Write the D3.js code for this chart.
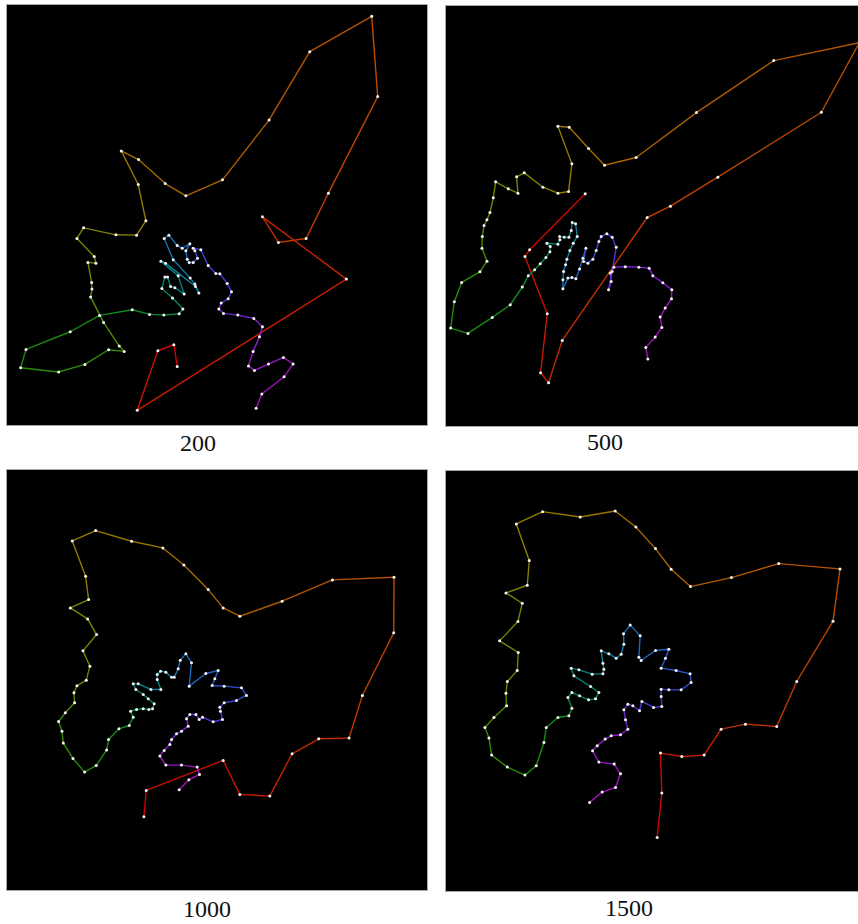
<!DOCTYPE html>
<html>
<head>
<meta charset="utf-8">
<script src="https://cdn.jsdelivr.net/npm/d3@7"></script>
<style>
  html, body { margin: 0; padding: 0; background: #ffffff; }
  svg { display: block; }
</style>
</head>
<body>
<svg id="chart" width="858" height="924"></svg>
<script>
// Iteration counts shown under each panel
const iterations = ["200", "500", "1000", "1500"];

// Tour points after each iteration count, in each panel's own coordinate frame
const tour200 = [[532,1100],[522,1035],[474,1053],[412,1232],[1040,838],[788,651],[836,728],[919,716],[986,580],[1134,290],[1116,49],[930,155],[808,360],[668,540],[558,588],[496,551],[416,479],[364,453],[415,554],[438,663],[410,706],[348,705],[251,684],[231,716],[283,770],[288,790],[264,788],[275,848],[276,868],[272,892],[311,968],[358,1039],[373,1055],[326,1050],[255,1094],[176,1117],[62,1104],[78,1049],[211,996],[299,947],[397,930],[449,944],[492,946],[538,942],[549,928],[518,895],[486,866],[495,832],[503,832],[512,860],[525,864],[553,883],[535,828],[483,784],[497,790],[587,860],[597,880],[585,853],[571,835],[520,780],[493,716],[507,706],[532,737],[547,745],[570,732],[558,753],[562,778],[568,788],[580,788],[593,775],[585,753],[580,745],[603,750],[625,797],[648,821],[660,822],[682,851],[695,876],[685,897],[664,910],[657,928],[671,941],[714,946],[762,956],[788,981],[779,1011],[760,1055],[746,1099],[764,1112],[806,1093],[851,1073],[880,1093],[853,1131],[786,1183],[769,1226]];

const tour500 = [[467,582],[300,750],[286,770],[353,942],[333,1119],[357,1149],[398,1022],[653,653],[723,619],[865,532],[1176,337],[1290,128],[1033,182],[801,338],[620,473],[525,496],[477,446],[419,382],[385,379],[427,492],[417,575],[385,580],[340,562],[284,519],[261,531],[265,580],[236,567],[198,546],[191,594],[181,638],[172,660],[163,677],[158,710],[157,745],[172,784],[151,816],[96,848],[74,906],[63,985],[115,1001],[188,953],[242,915],[278,862],[296,828],[315,810],[332,792],[349,773],[361,756],[362,740],[352,730],[385,733],[391,720],[390,710],[404,712],[418,712],[425,692],[428,668],[438,672],[443,710],[431,730],[421,752],[412,778],[408,795],[402,815],[400,840],[400,867],[415,835],[427,833],[439,837],[450,808],[460,775],[469,745],[462,785],[475,790],[490,778],[500,752],[508,725],[515,710],[532,702],[548,712],[560,742],[548,815],[537,870],[545,845],[542,820],[553,802],[587,801],[628,802],[659,805],[670,828],[700,849],[727,870],[726,897],[707,925],[692,952],[697,983],[677,1012],[649,1043],[655,1078]];

const tour1000 = [[432,1072],[439,993],[670,903],[720,1005],[810,1010],[877,883],[957,838],[1048,836],[1088,708],[1182,520],[1183,353],[998,361],[847,425],[720,470],[670,445],[625,390],[552,316],[489,265],[395,245],[287,213],[217,244],[257,350],[266,420],[211,445],[263,478],[290,525],[249,574],[270,620],[259,662],[231,679],[222,700],[224,730],[196,760],[176,786],[186,815],[190,851],[219,897],[254,938],[289,918],[320,872],[326,840],[357,808],[388,798],[400,773],[392,755],[410,750],[430,748],[447,750],[458,748],[463,733],[445,718],[430,705],[408,690],[400,673],[415,673],[453,690],[483,690],[472,660],[472,645],[482,635],[498,638],[515,653],[523,653],[535,628],[541,602],[558,583],[575,610],[568,680],[618,642],[655,633],[645,658],[637,678],[673,680],[725,685],[740,708],[710,723],[673,730],[660,743],[662,755],[668,780],[640,787],[608,773],[598,780],[588,765],[570,765],[560,778],[565,800],[545,815],[530,823],[515,840],[510,855],[493,873],[480,890],[498,917],[545,917],[592,923],[599,945],[567,961],[538,991]];

const tour1500 = [[683,1133],[697,1000],[693,880],[757,890],[824,886],[875,808],[948,793],[1042,800],[1102,665],[1211,484],[1232,327],[1048,311],[906,353],[783,380],[725,328],[678,266],[619,201],[557,153],[452,171],[339,155],[260,192],[299,302],[293,376],[229,399],[278,430],[265,485],[210,543],[266,578],[263,632],[233,665],[229,700],[231,738],[193,773],[166,803],[178,835],[186,886],[233,922],[286,946],[320,918],[343,848],[350,803],[385,773],[418,768],[427,745],[415,713],[427,698],[450,708],[477,720],[498,717],[508,698],[483,680],[433,648],[425,625],[448,630],[488,643],[520,642],[523,628],[520,610],[515,573],[538,582],[560,595],[575,583],[583,553],[582,522],[602,495],[632,528],[628,592],[635,602],[678,572],[718,568],[708,595],[695,625],[740,632],[782,642],[785,668],[755,690],[718,690],[695,688],[695,710],[697,740],[672,743],[637,725],[630,753],[610,738],[595,733],[583,750],[588,780],[595,808],[573,825],[545,828],[527,838],[503,858],[489,873],[508,907],[554,913],[573,942],[558,983],[518,997],[480,1028]];

// Coordinate extent of each panel's frame: [[xmin, xmax], [ymin, ymax]]
const extent200  = [[18,1282],[12,1276]];
const extent500  = [[46,1310],[15,1279]];
const extent1000 = [[18,1282],[28,1292]];
const extent1500 = [[46,1310],[30,1294]];

const tours   = [tour200, tour500, tour1000, tour1500];
const extents = [extent200, extent500, extent1000, extent1500];

// Page layout
const SIZE = 421;
const frames = [
  { x: 6,   y: 4,   lx: 198, ly: 451 },
  { x: 445, y: 5,   lx: 605, ly: 450 },
  { x: 6,   y: 469, lx: 207, ly: 917 },
  { x: 445, y: 470, lx: 629, ly: 916 }
];

// Colour along the tour: red through orange, olive, green, teal, blue to violet
const hueStops = ["#cc0000","#ba4c00","#927e00","#5c8a00","#168a0c","#00866a","#0a80a0","#2262c8","#4838d8","#8a1ed0","#a810b8"];
const colourAt = d3.scaleLinear()
  .domain(d3.range(hueStops.length).map(i => i / (hueStops.length - 1)))
  .range(hueStops)
  .interpolate(d3.interpolateRgb);

const svg = d3.select("#chart");

tours.forEach((tour, k) => {
  const f = frames[k];
  const ext = extents[k];
  const x = d3.scaleLinear().domain(ext[0]).range([f.x, f.x + SIZE]);
  const y = d3.scaleLinear().domain(ext[1]).range([f.y, f.y + SIZE]);

  const clipId = "clip" + k;
  svg.append("clipPath").attr("id", clipId)
    .append("rect").attr("x", f.x).attr("y", f.y).attr("width", SIZE).attr("height", SIZE);

  // panel background and border
  svg.append("rect")
    .attr("x", f.x + 0.5).attr("y", f.y + 0.5)
    .attr("width", SIZE).attr("height", SIZE)
    .attr("fill", "#000").attr("stroke", "#a8a8a8").attr("stroke-width", 1);

  const g = svg.append("g").attr("clip-path", `url(#${clipId})`);
  const n = tour.length;
  const segments = d3.pairs(tour).map((p, i) => ({ a: p[0], b: p[1], t: (i + 0.5) / (n - 1) }));

  g.selectAll("line.seg").data(segments).join("line")
    .attr("class", "seg")
    .attr("x1", d => x(d.a[0])).attr("y1", d => y(d.a[1]))
    .attr("x2", d => x(d.b[0])).attr("y2", d => y(d.b[1]))
    .attr("stroke", d => colourAt(d.t))
    .attr("stroke-width", 1.4)
    .attr("stroke-linecap", "round");

  g.selectAll("circle.node").data(tour).join("circle")
    .attr("class", "node")
    .attr("cx", d => x(d[0])).attr("cy", d => y(d[1]))
    .attr("r", 1.5)
    .attr("fill", "#f4f4f4");

  svg.append("text")
    .attr("x", f.lx).attr("y", f.ly)
    .attr("text-anchor", "middle")
    .attr("font-family", "'Liberation Serif', 'DejaVu Serif', serif")
    .attr("font-size", 24)
    .attr("fill", "#111")
    .text(iterations[k]);
});
</script>
</body>
</html>
